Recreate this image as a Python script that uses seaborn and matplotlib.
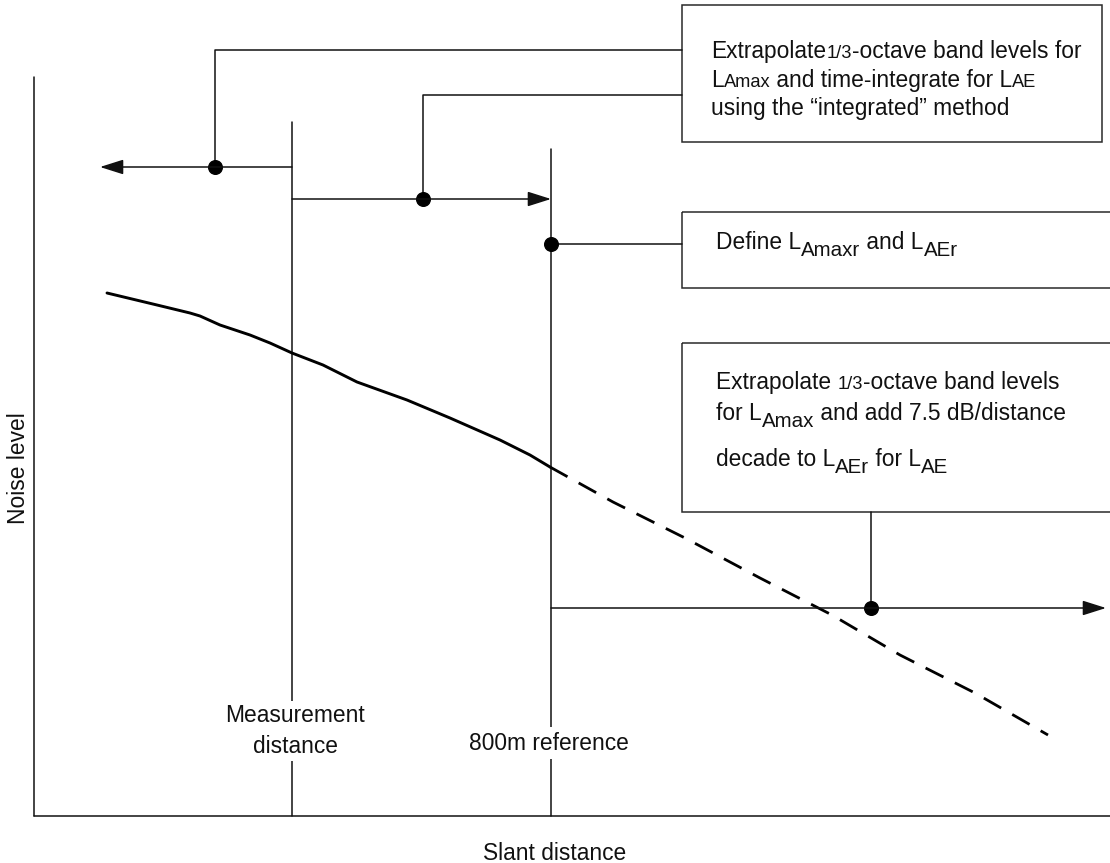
import numpy as np
import matplotlib
matplotlib.use('Agg')
import matplotlib.pyplot as plt
import seaborn as sns
import pandas as pd
from matplotlib.patches import Rectangle
from matplotlib.font_manager import FontProperties

# Curve (diagram units: x = slant distance, y = noise level, drawn top-down)
meas_x = [107, 157, 190, 200, 220, 250, 270, 292, 323, 357, 407, 450, 500, 530, 550]
meas_y = [293, 305, 313, 316, 325, 335, 343, 353, 365, 382, 400, 418, 440, 455, 467]
extr_x = [550, 613, 685, 760, 832, 900, 975, 1048]
extr_y = [467, 502, 538, 578, 615, 655, 693, 735]

x_label = 'Slant distance'
y_label = 'Noise level'
dist_labels = ['Measurement\ndistance', '800m reference']

# box texts: lines of (text, size scale, lowered px)
box1_lines = [
    [('Extrapolate', 1, 0), ('1/3', 0.8, 0), ('-octave band levels for', 1, 0)],
    [('L', 1, 0), ('Amax', 0.8, 0), (' and time-integrate for L', 1, 0), ('AE', 0.8, 0)],
    [('using the \u201cintegrated\u201d method', 1, 0)],
]
box2_lines = [
    [('Define L', 1, 0), ('Amaxr', 0.9, 7), (' and L', 1, 0), ('AEr', 0.9, 7)],
]
box3_lines = [
    [('Extrapolate ', 1, 0), ('1/3', 0.8, 0), ('-octave band levels', 1, 0)],
    [('for L', 1, 0), ('Amax', 0.9, 7), (' and add 7.5 dB/distance', 1, 0)],
    [('decade to L', 1, 0), ('AEr', 0.9, 7), (' for L', 1, 0), ('AE', 0.9, 7)],
]

W, H, DPI = 1110, 863, 100
FS = 16.4
INK = '#111111'

sns.set_theme(style='white')
plt.rcParams['font.family'] = ['Liberation Sans', 'DejaVu Sans']

fig = plt.figure(figsize=(W / DPI, H / DPI), dpi=DPI)
ax = fig.add_axes([0, 0, 1, 1])

# axes lines and distance markers
ax.plot([34, 34], [77, 816], color=INK, lw=1.1)
ax.plot([34, 1110], [816, 816], color=INK, lw=1.1)
ax.plot([292, 292], [122, 816], color=INK, lw=1.1)
ax.plot([551, 551], [149, 816], color=INK, lw=1.1)

# noise curve
df_meas = pd.DataFrame({'x': meas_x, 'y': meas_y})
df_extr = pd.DataFrame({'x': extr_x, 'y': extr_y})
sns.lineplot(data=df_meas, x='x', y='y', ax=ax, color='black', lw=2.1, sort=False, estimator=None)
sns.lineplot(data=df_extr, x='x', y='y', ax=ax, color='black', lw=2.0, sort=False, estimator=None,
             linestyle=(0, (7.2, 4.6)))
ax.set_xlim(0, W)
ax.set_ylim(H, 0)
ax.axis('off')


def arrow(x0, x1, y):
    ax.annotate('', xy=(x1, y), xytext=(x0, y),
                arrowprops=dict(arrowstyle='-|>,head_length=1.2,head_width=0.38',
                                lw=1.1, color=INK, shrinkA=0, shrinkB=0))


arrow(292, 100, 167)
arrow(292, 551, 199)
arrow(551, 1106, 608)

# connectors
ax.plot([215, 215, 682], [167, 50, 50], color=INK, lw=1.1)
ax.plot([423, 423, 682], [199, 95, 95], color=INK, lw=1.1)
ax.plot([551, 682], [244, 244], color=INK, lw=1.1)
ax.plot([871, 871], [512, 608], color=INK, lw=1.1)

dots_x = [215, 423, 551, 871]
dots_y = [167, 199, 244, 608]
ax.plot(dots_x, dots_y, 'o', color='black', ms=9.8, ls='none')

# boxes
for (bx, by, bw, bh) in [(682, 5, 420, 137), (682, 212, 440, 76), (682, 343, 440, 169)]:
    ax.add_patch(Rectangle((bx, by), bw, bh, fill=False, ec='#2a2a2a', lw=1.1, clip_on=False))

fig.canvas.draw()
renderer = fig.canvas.get_renderer()


def advance(s, size):
    # width of s including any trailing spaces
    prop = FontProperties(family=plt.rcParams['font.family'], size=size)
    w1 = renderer.get_text_width_height_descent(s + 'x', prop, ismath=False)[0]
    w0 = renderer.get_text_width_height_descent('x', prop, ismath=False)[0]
    return w1 - w0


def rich_line(x, y, parts):
    off = 0.0
    for s, scale, dy in parts:
        ax.annotate(s, xy=(x, y), xycoords='data',
                    xytext=(off * 72 / DPI, -dy * 72 / DPI), textcoords='offset points',
                    fontsize=FS * scale, ha='left', va='baseline', color=INK)
        off += advance(s, FS * scale)


for line, yb in zip(box1_lines, [58, 87, 115]):
    rich_line(711, yb, line)
for line, yb in zip(box2_lines, [249]):
    rich_line(716, yb, line)
for line, yb in zip(box3_lines, [389, 420, 466]):
    rich_line(716, yb, line)

# labels
ax.text(295, 731, dist_labels[0], ha='center', va='center', fontsize=FS, color=INK,
        multialignment='center', linespacing=1.45,
        bbox=dict(fc='white', ec='none', pad=2))
ax.text(549, 743, dist_labels[1], ha='center', va='center', fontsize=FS, color=INK,
        bbox=dict(fc='white', ec='none', pad=3))
ax.text(555, 853, x_label, ha='center', va='center', fontsize=FS, color=INK)
ax.text(19, 468, y_label, ha='center', va='center', fontsize=FS, color=INK, rotation=90)

fig.savefig('out.png', dpi=DPI)
